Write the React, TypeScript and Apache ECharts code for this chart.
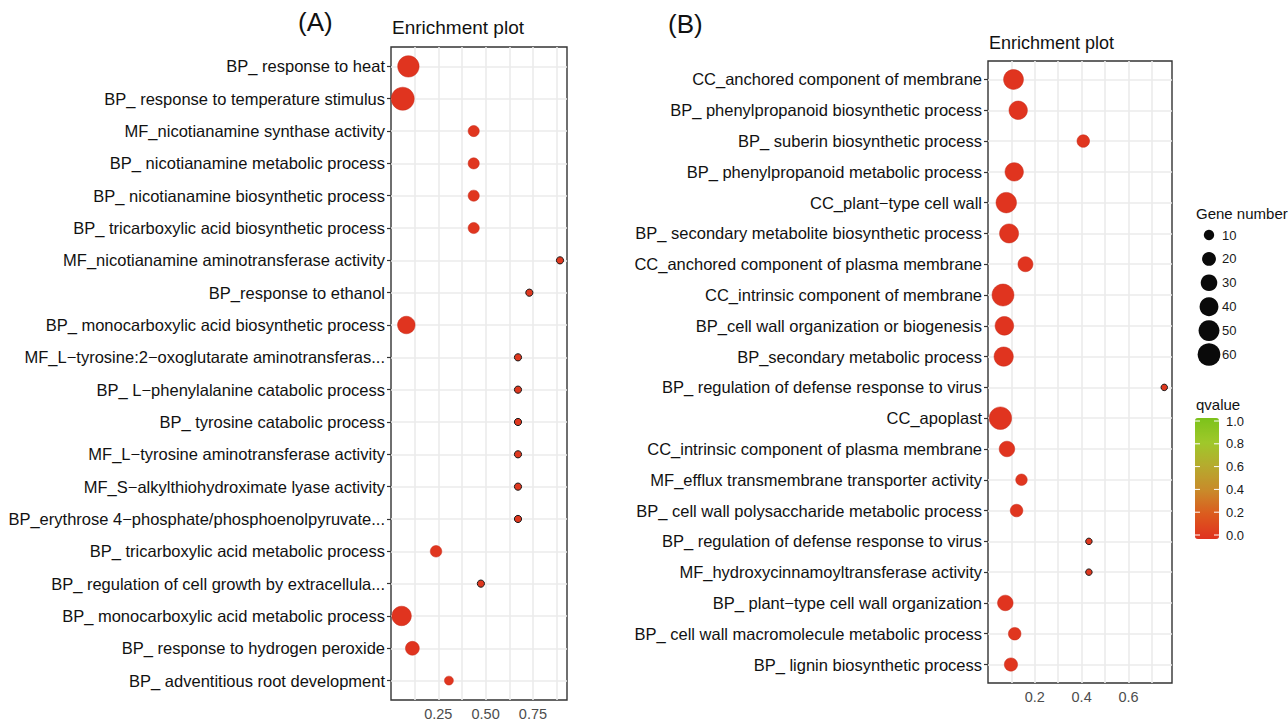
import React, { useEffect, useRef } from "react";
import * as echarts from "echarts";

// ---------- Panel A data ----------
const termsA = [
  "BP_ response to heat",
  "BP_ response to temperature stimulus",
  "MF_nicotianamine synthase activity",
  "BP_ nicotianamine metabolic process",
  "BP_ nicotianamine biosynthetic process",
  "BP_ tricarboxylic acid biosynthetic process",
  "MF_nicotianamine aminotransferase activity",
  "BP_response to ethanol",
  "BP_ monocarboxylic acid biosynthetic process",
  "MF_L\u2212tyrosine:2\u2212oxoglutarate aminotransferas...",
  "BP_ L\u2212phenylalanine catabolic process",
  "BP_ tyrosine catabolic process",
  "MF_L\u2212tyrosine aminotransferase activity",
  "MF_S\u2212alkylthiohydroximate lyase activity",
  "BP_erythrose 4\u2212phosphate/phosphoenolpyruvate...",
  "BP_ tricarboxylic acid metabolic process",
  "BP_ regulation of cell growth by extracellula...",
  "BP_ monocarboxylic acid metabolic process",
  "BP_ response to hydrogen peroxide",
  "BP_ adventitious root development",
];
const ratioA = [0.092, 0.062, 0.437, 0.437, 0.437, 0.437, 0.893, 0.731, 0.081, 0.671, 0.671, 0.671, 0.671, 0.671, 0.671, 0.238, 0.475, 0.056, 0.113, 0.306];
const countA = [53, 62, 12, 12, 12, 12, 4, 4, 34, 4, 4, 4, 4, 4, 4, 13, 4, 43, 20, 7];
const qvalueA = [0.01, 0.01, 0.02, 0.02, 0.02, 0.02, 0.03, 0.03, 0.01, 0.03, 0.03, 0.03, 0.03, 0.03, 0.03, 0.02, 0.03, 0.01, 0.01, 0.02];

// ---------- Panel B data ----------
const termsB = [
  "CC_anchored component of membrane",
  "BP_ phenylpropanoid biosynthetic process",
  "BP_ suberin biosynthetic process",
  "BP_ phenylpropanoid metabolic process",
  "CC_plant\u2212type cell wall",
  "BP_ secondary metabolite biosynthetic process",
  "CC_anchored component of plasma membrane",
  "CC_intrinsic component of membrane",
  "BP_cell wall organization or biogenesis",
  "BP_secondary metabolic process",
  "BP_ regulation of defense response to virus",
  "CC_apoplast",
  "CC_intrinsic component of plasma membrane",
  "MF_efflux transmembrane transporter activity",
  "BP_ cell wall polysaccharide metabolic process",
  "BP_ regulation of defense response to virus",
  "MF_hydroxycinnamoyltransferase activity",
  "BP_ plant\u2212type cell wall organization",
  "BP_ cell wall macromolecule metabolic process",
  "BP_ lignin biosynthetic process",
];
const ratioB = [0.109, 0.129, 0.407, 0.112, 0.078, 0.09, 0.16, 0.064, 0.07, 0.067, 0.753, 0.053, 0.081, 0.143, 0.122, 0.431, 0.431, 0.074, 0.114, 0.098];
const countB = [45, 38, 16, 38, 48, 41, 24, 56, 39, 42, 3, 59, 26, 13, 16, 3, 3, 26, 16, 18];
const qvalueB = [0.01, 0.01, 0.02, 0.01, 0.01, 0.01, 0.01, 0.01, 0.01, 0.01, 0.03, 0.01, 0.01, 0.02, 0.02, 0.03, 0.03, 0.01, 0.02, 0.02];

// ---------- Axis ticks ----------
const xTicksA = [0.25, 0.5, 0.75];
const xGridA = [0.125, 0.25, 0.375, 0.5, 0.625, 0.75, 0.875];
const xTicksB = [0.2, 0.4, 0.6];
const xGridB = [0.1, 0.2, 0.3, 0.4, 0.5, 0.6, 0.7];

// ---------- Legends ----------
const sizeLegend = [10, 20, 30, 40, 50, 60];
const qTicks = [0, 0.2, 0.4, 0.6, 0.8, 1.0];
const qColors = ["#E0321F", "#DC5A1E", "#C98A2A", "#B6AA2E", "#9FC82A", "#7CC21A"];

const FONT = "'Liberation Sans', Arial, Helvetica, sans-serif";
const sizeFn = (n: number) => 2 * (0.9 + 1.35 * Math.sqrt(n));

function rows(terms: string[]) {
  return terms.map((_, i) => i);
}

function buildData(ratio: number[], count: number[], q: number[]) {
  return ratio.map((r, i) => ({
    value: [r, i, count[i], q[i]],
    itemStyle:
      count[i] <= 5
        ? { borderColor: "#1a1a1a", borderWidth: 1, opacity: 1 }
        : { borderColor: "#C42A1A", borderWidth: 0.5, opacity: 1 },
  }));
}

function yAxis(gridIndex: number, terms: string[]) {
  return {
    type: "value",
    gridIndex,
    inverse: true,
    min: -0.6,
    max: terms.length - 1 + 0.6,
    axisLine: { show: false },
    axisTick: {
      show: true,
      length: 4,
      customValues: rows(terms),
      lineStyle: { color: "#333333", width: 1.2 },
    },
    axisLabel: {
      customValues: rows(terms),
      formatter: (v: number) => terms[Math.round(v)] ?? "",
      fontSize: 16.5,
      color: "#111111",
      fontFamily: FONT,
      margin: 6,
    },
    splitLine: { show: true, lineStyle: { color: "#EBEBEB", width: 1.6 } },
  };
}

function xAxis(gridIndex: number, max: number, grid: number[], ticks: number[], digits: number) {
  return {
    type: "value",
    gridIndex,
    min: 0,
    max,
    axisLine: { show: false },
    axisTick: { show: false, customValues: grid },
    axisLabel: {
      customValues: ticks,
      formatter: (v: number) => v.toFixed(digits),
      fontSize: 14.5,
      color: "#4D4D4D",
      fontFamily: FONT,
      margin: 6,
    },
    splitLine: { show: true, lineStyle: { color: "#EBEBEB", width: 1.6 } },
  };
}

function buildGraphics() {
  const g: any[] = [];
  const txt = (text: string, x: number, y: number, size: number, color = "#111111", align = "left") => ({
    type: "text",
    x,
    y,
    silent: true,
    style: { text, fill: color, fontSize: size, fontFamily: FONT, align, verticalAlign: "middle" },
  });
  g.push(txt("(A)", 298, 22, 26));
  g.push(txt("(B)", 668, 24, 26));
  g.push(txt("Enrichment plot", 392, 27, 19));
  g.push(txt("Enrichment plot", 989, 43, 18));

  // Gene number legend
  g.push(txt("Gene number", 1196, 213, 15));
  sizeLegend.forEach((n, i) => {
    const cy = 235 + i * 23.9;
    g.push({
      type: "circle",
      silent: true,
      shape: { cx: 1209, cy, r: sizeFn(n) / 2 },
      style: { fill: "#0A0A0A" },
    });
    g.push(txt(String(n), 1222, cy, 13, "#1a1a1a"));
  });

  // qvalue legend labels and ticks
  g.push(txt("qvalue", 1196, 404, 15));
  const y0 = 535;
  const span = 114;
  qTicks.forEach((v) => {
    const y = y0 - v * span;
    g.push({
      type: "line",
      silent: true,
      z: 100,
      shape: { x1: 1195, y1: y, x2: 1200, y2: y },
      style: { stroke: "#ffffff", lineWidth: 1 },
    });
    g.push({
      type: "line",
      silent: true,
      z: 100,
      shape: { x1: 1214, y1: y, x2: 1219, y2: y },
      style: { stroke: "#ffffff", lineWidth: 1 },
    });
    g.push(txt(v.toFixed(1), 1226, y, 13, "#1a1a1a"));
  });
  return g;
}

function buildOption() {
  return {
    animation: false,
    backgroundColor: "#ffffff",
    textStyle: { fontFamily: FONT },
    grid: [
      { left: 391, top: 47, width: 176, height: 656, show: true, borderColor: "#333333", borderWidth: 1.4, backgroundColor: "transparent" },
      { left: 988, top: 61, width: 184, height: 622, show: true, borderColor: "#333333", borderWidth: 1.4, backgroundColor: "transparent" },
    ],
    xAxis: [xAxis(0, 0.93, xGridA, xTicksA, 2), xAxis(1, 0.786, xGridB, xTicksB, 1)],
    yAxis: [yAxis(0, termsA), yAxis(1, termsB)],
    visualMap: [
      {
        type: "continuous",
        min: 0,
        max: 1,
        dimension: 3,
        seriesIndex: [0, 1],
        calculable: false,
        orient: "vertical",
        left: 1195,
        top: 418,
        padding: 0,
        itemWidth: 24,
        itemHeight: 121,
        text: null,
        inRange: { color: qColors, opacity: 1 },
      },
    ],
    series: [
      {
        type: "scatter",
        xAxisIndex: 0,
        yAxisIndex: 0,
        symbol: "circle",
        symbolSize: (d: number[]) => sizeFn(d[2]),
        itemStyle: { opacity: 1 },
        data: buildData(ratioA, countA, qvalueA),
        z: 5,
      },
      {
        type: "scatter",
        xAxisIndex: 1,
        yAxisIndex: 1,
        symbol: "circle",
        symbolSize: (d: number[]) => sizeFn(d[2]),
        itemStyle: { opacity: 1 },
        data: buildData(ratioB, countB, qvalueB),
        z: 5,
      },
    ],
    graphic: buildGraphics(),
  };
}

export default function App() {
  const ref = useRef<HTMLDivElement>(null);
  useEffect(() => {
    if (!ref.current) return;
    const chart = echarts.init(ref.current, null, { renderer: "svg" });
    chart.setOption(buildOption() as any);
    return () => chart.dispose();
  }, []);
  return (
    <div
      ref={ref}
      style={{ position: "fixed", left: 0, top: 0, width: 1288, height: 721, background: "#ffffff" }}
    />
  );
}
